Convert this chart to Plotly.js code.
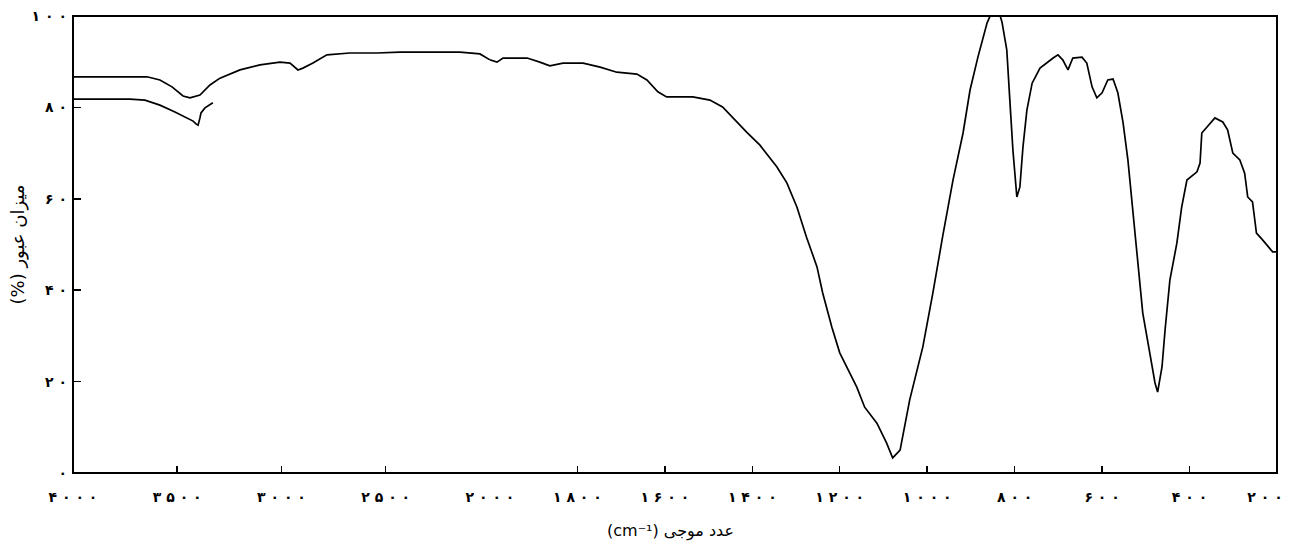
<!DOCTYPE html>
<html>
<head>
<meta charset="utf-8">
<script src="https://cdn.plot.ly/plotly-3.0.1.min.js"></script>
<style>html,body{margin:0;padding:0;background:#fff;}#chart{width:1290px;height:542px;}</style>
</head>
<body>
<div id="chart"></div>
<script>
// Upper spectrum, high-wavenumber section (4000-2000 cm-1)
const upperHighWavenumber = [4000, 3871, 3645, 3583, 3525, 3472, 3439, 3391, 3343, 3295, 3199, 3103, 3007, 2959, 2921, 2897, 2849, 2782, 2672, 2542, 2432, 2240, 2144, 2048, 2000];
const upperHighT = [86.7, 86.7, 86.7, 86.0, 84.5, 82.5, 82.1, 82.7, 84.9, 86.4, 88.2, 89.3, 89.9, 89.7, 88.2, 88.6, 89.7, 91.5, 91.9, 91.9, 92.1, 92.1, 92.1, 91.7, 90.4];

// Upper spectrum, low-wavenumber section (2000-200 cm-1)
const upperLowWavenumber = [2000, 1984, 1970, 1915, 1886, 1863, 1833, 1787, 1748, 1710, 1664, 1641, 1616, 1596, 1536, 1497, 1468, 1445, 1413, 1383, 1344, 1321, 1298, 1276, 1252, 1239, 1218, 1200, 1177, 1161, 1143, 1115, 1093, 1079, 1062, 1040, 1010, 987, 964, 941, 918, 902, 884, 863, 856, 833, 829, 818, 811, 804, 795, 788, 781, 772, 760, 742, 712, 701, 690, 678, 667, 646, 635, 623, 612, 600, 587, 575, 564, 552, 541, 532, 520, 507, 491, 479, 473, 463, 456, 445, 429, 418, 406, 383, 376, 372, 360, 342, 324, 313, 301, 285, 274, 267, 256, 247, 233, 210, 200];
const upperLowT = [90.4, 89.9, 90.8, 90.8, 89.9, 89.1, 89.7, 89.7, 88.8, 87.7, 87.3, 86.0, 83.4, 82.3, 82.3, 81.6, 80.1, 77.7, 74.6, 71.8, 67.0, 63.5, 58.2, 51.6, 45.1, 39.4, 31.9, 26.3, 21.9, 18.8, 14.4, 10.9, 6.6, 3.3, 5.0, 16.0, 27.6, 39.4, 52.1, 64.1, 74.4, 83.8, 91.0, 98.5, 100, 100, 98.7, 92.6, 81.6, 70.7, 60.4, 62.6, 71.3, 79.4, 85.3, 88.6, 90.8, 91.5, 90.4, 88.2, 90.8, 91.0, 89.7, 84.5, 82.1, 83.2, 86.0, 86.2, 83.2, 76.6, 68.5, 59.7, 46.6, 35.0, 26.3, 19.7, 17.7, 23.2, 31.3, 42.2, 50.3, 58.2, 64.1, 65.9, 67.8, 74.4, 75.7, 77.7, 76.8, 75.1, 70.0, 68.5, 65.6, 60.4, 59.3, 52.5, 51.0, 48.4, 48.4];

// Lower (short) spectrum near 4000-3300 cm-1
const lowerWavenumber = [4000, 3870, 3727, 3655, 3583, 3511, 3463, 3424, 3410, 3400, 3391, 3386, 3367, 3329];
const lowerT = [81.8, 81.8, 81.8, 81.6, 80.5, 79.0, 77.9, 77.0, 76.4, 76.1, 77.7, 78.8, 79.9, 81.0];

// Tick values and labels
const xHighTicks = [4000, 3500, 3000, 2500];
const xHighLabels = ['۴ ۰ ۰ ۰', '۳ ۵ ۰ ۰', '۳ ۰ ۰ ۰', '۲ ۵ ۰ ۰'];
const xLowTicks = [2000, 1800, 1600, 1400, 1200, 1000, 800, 600, 400];
const xLowLabels = ['۲ ۰ ۰ ۰', '۱ ۸ ۰ ۰', '۱ ۶ ۰ ۰', '۱ ۴ ۰ ۰', '۱ ۲ ۰ ۰', '۱ ۰ ۰ ۰', '۸ ۰ ۰', '۶ ۰ ۰', '۴ ۰ ۰'];
const xEndTicks = [200];
const xEndLabels = ['۲ ۰ ۰'];
const yTicks = [0, 20, 40, 60, 80, 100];
const yLabels = ['۰', '۲ ۰', '۴ ۰', '۶ ۰', '۸ ۰', '۱ ۰ ۰'];

const xTitle = '\u202Bعدد موجی (cm⁻¹)\u202C';
const yTitle = '\u202Bمیزان عبور (%)\u202C';

const lineStyle = {color: '#000', width: 1.7};
const FONT = 'DejaVu Sans, sans-serif';
const split = 0.3463;

const traces = [
  {x: upperHighWavenumber, y: upperHighT, xaxis: 'x', yaxis: 'y', mode: 'lines', line: lineStyle, hoverinfo: 'skip'},
  {x: upperLowWavenumber, y: upperLowT, xaxis: 'x2', yaxis: 'y', mode: 'lines', line: lineStyle, hoverinfo: 'skip'},
  {x: lowerWavenumber, y: lowerT, xaxis: 'x', yaxis: 'y', mode: 'lines', line: lineStyle, hoverinfo: 'skip'},
  // empty carrier so the end-label axis is drawn
  {x: [], y: [], xaxis: 'x3', yaxis: 'y', mode: 'lines', hoverinfo: 'skip'}
];

const tickFont = {family: FONT, size: 14, color: '#000', weight: 'bold'};
const xCommon = {
  showgrid: false, zeroline: false, showline: false,
  ticks: 'inside', ticklen: 7, tickwidth: 1.5, tickcolor: '#000',
  tickmode: 'array', tickfont: tickFont, ticklabelstandoff: 14,
  ticklabeloverflow: 'allow',
  anchor: 'y', fixedrange: true
};

const layout = {
  width: 1290, height: 542,
  margin: {l: 73, r: 13, t: 16, b: 69},
  paper_bgcolor: '#fff', plot_bgcolor: '#fff',
  showlegend: false,
  font: {family: FONT, color: '#000'},
  xaxis: Object.assign({}, xCommon, {domain: [0, split], range: [4000, 2000], tickvals: xHighTicks, ticktext: xHighLabels}),
  xaxis2: Object.assign({}, xCommon, {domain: [split, 1], range: [2000, 200], tickvals: xLowTicks, ticktext: xLowLabels}),
  xaxis3: Object.assign({}, xCommon, {overlaying: 'x2', side: 'bottom', domain: [split, 1], range: [2000, 200], tickvals: xEndTicks, ticktext: xEndLabels,
    ticks: '', ticklabelshift: 12}),
  yaxis: {
    domain: [0, 1], range: [0, 100], anchor: 'x',
    showgrid: false, zeroline: false, showline: false,
    ticks: 'inside', ticklen: 8, tickwidth: 1.5, tickcolor: '#000',
    tickmode: 'array', tickvals: yTicks, ticktext: yLabels,
    tickfont: tickFont, ticklabelstandoff: 5, ticklabeloverflow: 'allow',
    title: {text: yTitle, font: {family: FONT, size: 18, color: '#000'}, standoff: 2},
    fixedrange: true
  },
  shapes: [
    {type: 'rect', xref: 'paper', yref: 'paper', x0: 0, x1: 1, y0: 0, y1: 1, line: {color: '#000', width: 2}}
  ],
  annotations: [
    {text: xTitle, xref: 'paper', yref: 'paper', x: 0.496, y: -0.127, xanchor: 'center', yanchor: 'middle', showarrow: false,
     font: {family: FONT, size: 16, color: '#000'}}
  ]
};

Plotly.newPlot('chart', traces, layout, {displayModeBar: false, staticPlot: true});
</script>
</body>
</html>
